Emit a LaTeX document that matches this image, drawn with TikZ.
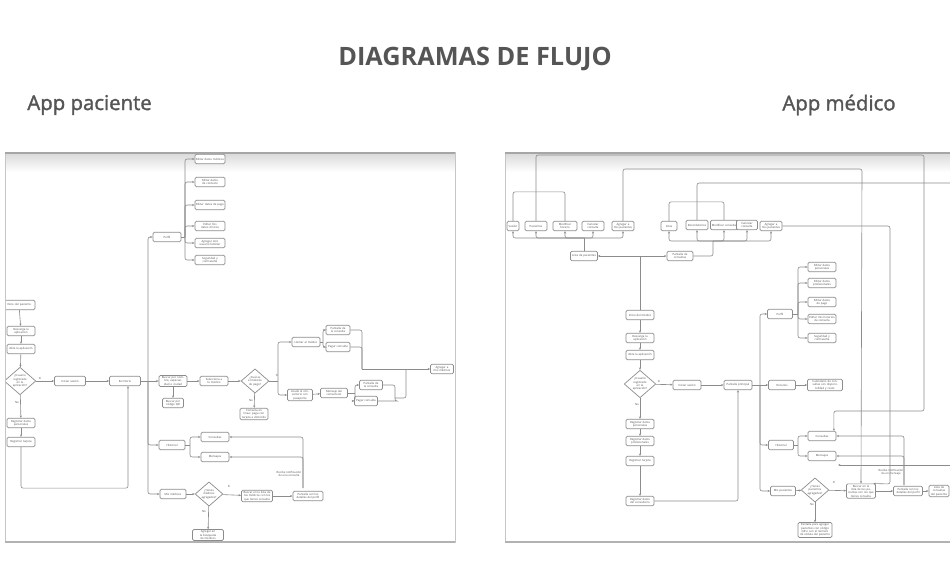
\documentclass[tikz,border=0pt]{standalone}
\usepackage{fontspec}
\setmainfont{Open Sans}
\usetikzlibrary{arrows.meta, shapes.geometric}
\definecolor{titulo}{HTML}{555555}
\definecolor{borde}{HTML}{8C8C8C}
\tikzstyle{box} = [draw=borde, fill=white, rounded corners=0.8pt, align=center, text width=0.52cm, minimum height=0.19cm, inner sep=0.6pt, font=\fontsize{1.6}{1.9}\selectfont, text=black!70]
\tikzstyle{choice} = [diamond, draw=borde, fill=white, align=center, text width=0.34cm, aspect=1.15, inner sep=0pt, minimum width=0.52cm, minimum height=0.44cm, font=\fontsize{1.6}{1.9}\selectfont, text=black!70]
\tikzstyle{wire} = [draw=borde, line width=0.35pt, rounded corners=1.2pt]
\tikzstyle{link} = [wire, -{Stealth[length=1.4pt, width=1.2pt]}]
\tikzstyle{tag} = [font=\fontsize{1.6}{1.9}\selectfont, text=black!70, inner sep=0pt, align=center]

\begin{document}
\begin{tikzpicture}[x=0.02cm, y=-0.02cm]
    \useasboundingbox (0,0) rectangle (950,568);
    % titulos
    \node (titulo) [font=\fontsize{14.4}{16}\selectfont\bfseries, text=titulo] at (475,59) {DIAGRAMAS DE FLUJO};
    \node (appP) [font=\fontsize{11.6}{13}\selectfont\addfontfeature{FakeBold=1.6}, text=titulo, anchor=west, inner sep=0pt] at (27,105) {App paciente};
    \node (appM) [font=\fontsize{11.6}{13}\selectfont\addfontfeature{FakeBold=1.6}, text=titulo, anchor=east, inner sep=0pt] at (896,105) {App médico};
    \shade [top color=gray!30, bottom color=white] (5,153) rectangle (455,172);
    \shade [top color=gray!30, bottom color=white] (505,153) rectangle (950,172);

    % app paciente
    \begin{scope}
    \clip (5,152) rectangle (455,542);
    \node (inicioP) [box, text width=0.6cm] at (19,305) {Inicio del paciente};
    \node (descargaP) [box] at (21,331) {Descarga la aplicación};
    \node (abreP) [box] at (21,349) {Abre la aplicación};
    \node (registradoP) [choice] at (20,381) {¿Usuario registrado en la aplicación?};
    \node (sesionP) [box, text width=0.58cm] at (70,381) {Iniciar sesión};
    \node (escritorioP) [box, text width=0.58cm] at (125,381) {Escritorio};
    \node (datosP) [box] at (21,423) {Registrar datos personales};
    \node (tarjetaP) [box] at (21,442) {Registrar tarjeta};
    \node (perfilP) [box] at (167,237) {Perfil};
    \node (medicaP) [box, text width=0.56cm] at (210,159) {Editar datos médicos};
    \node (contactoP) [box, text width=0.56cm] at (210,182) {Editar datos de contacto};
    \node (pagoDatosP) [box, text width=0.56cm] at (210,205) {Editar datos de pago};
    \node (clinicosP) [box, text width=0.56cm] at (210,226) {Editar mis datos clínicos};
    \node (familiarP) [box, text width=0.56cm] at (210,243) {Agregar otro usuario familiar};
    \node (claveP) [box, text width=0.56cm] at (210,260) {Seguridad y contraseña};
    \node (buscarP) [box] at (173,381) {Buscar por nombre, especialidad o ciudad};
    \node (qrP) [box, text width=0.38cm] at (173,403) {Buscar por código QR};
    \node (eligeP) [box] at (214,381) {Selecciona a tu médico};
    \node (pagoP) [choice] at (255,381) {¿Cuál es el método de pago?};
    \node (costoP) [box] at (254,414) {Consulta en línea: paga con tarjeta a domicilio};
    \node (llamarP) [box] at (306,342) {Llamar al médico};
    \node (acudeP) [box, text width=0.46cm] at (300,395) {Acude al consultorio con pasaporte};
    \node (pantallaP) [box, text width=0.44cm] at (338,330) {Pantalla de la consulta};
    \node (pagarP) [box, text width=0.44cm] at (338,347) {Pagar consulta};
    \node (mensajeP) [box, text width=0.5cm] at (334,393) {Mensaje del consultorio};
    \node (lineaP) [box, text width=0.42cm] at (371,385) {Pantalla de la consulta};
    \node (cobroP) [box, text width=0.42cm] at (366,401) {Pagar consulta};
    \node (agregarP) [box, text width=0.42cm] at (442,369) {Agregar a mis médicos};
    \node (historialP) [box, text width=0.48cm] at (172,445) {Historial};
    \node (consultasP) [box] at (215,437) {Consultas};
    \node (mensajesP) [box] at (215,457) {Mensajes};
    \node (medicosP) [box, text width=0.48cm] at (173,494) {Mis médicos};
    \node (agregadosP) [choice] at (209,494) {¿Tienes médicos agregados?};
    \node (listaP) [box, text width=0.58cm] at (257,496) {Buscar en la lista de tus médicos con los que tienes consulta};
    \node (detalleP) [box, text width=0.56cm] at (308,496) {Pantalla con los detalles del perfil};
    \node (busquedaP) [box, text width=0.58cm] at (208,535) {Agregar en la búsqueda de médicos};
    \node (avisoTagP) [tag] at (289,474) {Recibe notificación\\ de una consulta};
    \node (si1P) [tag] at (40,378) {Sí};
    \node (no1P) [tag] at (17,403) {No};
    \node (si2P) [tag] at (277,375) {Sí};
    \node (no2P) [tag] at (251,401) {No};
    \node (si3P) [tag] at (229,486) {Sí};
    \node (no3P) [tag] at (204,512) {No};
    \coordinate (troncoP) at (148,381);
    \coordinate (ramaP) at (185,237);
    \coordinate (metodoP) at (278,381);
    \coordinate (llamadaP) at (323,342);
    \coordinate (juntaP) at (362,369);
    \coordinate (citaP) at (355,393);
    \coordinate (cierreP) at (395,398);
    \coordinate (cruceP) at (406,369);
    \coordinate (historiaP) at (190,445);
    \coordinate (avisoP) at (303,488);

    \draw [link] (inicioP) -- (descargaP);
    \draw [link] (descargaP) -- (abreP);
    \draw [link] (abreP) -- (registradoP);
    \draw [link] (registradoP) -- (sesionP);
    \draw [link] (sesionP) -- (escritorioP);
    \draw [link] (registradoP) -- (datosP);
    \draw [link] (datosP) -- (tarjetaP);
    \draw [link] (tarjetaP.south) -- ++(0,41) -| ([xshift=0.06cm]escritorioP.south);
    \draw [wire] (escritorioP) -- (troncoP);
    \draw [link] (troncoP) |- (perfilP);
    \draw [link] (troncoP) -- (buscarP);
    \draw [link] (troncoP) |- (historialP);
    \draw [link] (troncoP) |- (medicosP);
    \draw [wire] (perfilP) -- (ramaP);
    \foreach \n in {medicaP, contactoP, pagoDatosP, clinicosP, familiarP, claveP}
        \draw [link] (ramaP) |- (\n.west);
    \draw [link] (buscarP) -- (qrP);
    \draw [link] (buscarP) -- (eligeP);
    \draw [link] (eligeP) -- (pagoP);
    \draw [link] (pagoP) -- (costoP);
    \draw [wire] (pagoP) -- (metodoP);
    \draw [link] (metodoP) |- (llamarP);
    \draw [link] (metodoP) |- (acudeP);
    \draw [wire] (llamarP) -- (llamadaP);
    \draw [link] (llamadaP) |- (pantallaP);
    \draw [link] (llamadaP) |- (pagarP);
    \draw [wire] (pantallaP) -| (juntaP);
    \draw [wire] (pagarP) -| (juntaP);
    \draw [link] (juntaP) -- (agregarP);
    \draw [link] (acudeP) -- (mensajeP);
    \draw [wire] (mensajeP) -- (citaP);
    \draw [link] (citaP) |- (lineaP);
    \draw [link] (citaP) |- (cobroP);
    \draw [wire] (lineaP) -| (cierreP);
    \draw [wire] (cobroP.east) -- ++(0.38cm,0) -| (cierreP);
    \draw [wire] (cierreP) -| (cruceP);
    \draw [wire] (historialP) -- (historiaP);
    \draw [link] (historiaP) |- (consultasP);
    \draw [link] (historiaP) |- (mensajesP);
    \draw [link] (avisoP) |- (consultasP);
    \draw [link] (avisoP) |- (mensajesP);
    \draw [link] (medicosP) -- (agregadosP);
    \draw [link] (agregadosP) -- (listaP);
    \draw [link] (listaP) -- (detalleP);
    \draw [link] (agregadosP) -- (busquedaP);
    \end{scope}

    % app medico
    \begin{scope}
    \clip (505,152) rectangle (950,542);
    \node (ajustesM) [box, text width=0.2cm] at (513,226) {Sesión};
    \node (pacienteM) [box, text width=0.4cm] at (536,226) {Pacientes};
    \node (horarioM) [box, text width=0.44cm] at (565,226) {Modificar horario};
    \node (cancelaM) [box, text width=0.4cm] at (593,226) {Cancelar consulta};
    \node (nuevoM) [box, text width=0.4cm] at (623,226) {Agregar a mis pacientes};
    \node (listaM) [box, text width=0.5cm] at (584,256) {Lista de pacientes};
    \node (citasM) [box, text width=0.28cm] at (669,226) {Citas};
    \node (recuerdaM) [box, text width=0.4cm] at (697,225) {Recordatorios};
    \node (modificaM) [box, text width=0.5cm] at (724,225) {Modificar consulta};
    \node (cancelaM2) [box, text width=0.38cm] at (747,225) {Cancelar consulta};
    \node (nuevoM2) [box, text width=0.4cm] at (771,226) {Agregar a mis pacientes};
    \node (consultaM) [box, text width=0.48cm] at (680,256) {Pantalla de consultas};
    \node (inicioM) [box] at (640,315) {Inicio del médico};
    \node (descargaM) [box] at (640,338) {Descarga la aplicación};
    \node (abreM) [box] at (640,355) {Abre la aplicación};
    \node (registradoM) [choice] at (640,384) {¿Usuario registrado en la aplicación?};
    \node (sesionM) [box] at (687,385) {Iniciar sesión};
    \node (principalM) [box] at (738,385) {Pantalla principal};
    \node (datosM) [box] at (640,424) {Registrar datos personales};
    \node (profesionM) [box] at (640,441) {Registrar datos profesionales};
    \node (tarjetaM) [box] at (640,461) {Registrar tarjeta};
    \node (consultorioM) [box] at (640,501) {Registrar datos del consultorio};
    \node (perfilM) [box, text width=0.46cm] at (780,314) {Perfil};
    \node (horariosM) [box, text width=0.5cm] at (782,385) {Horarios};
    \node (historialM) [box, text width=0.46cm] at (781,445) {Historial};
    \node (pacientesM) [box, text width=0.46cm] at (783,491) {Mis pacientes};
    \node (personalM) [box] at (822,267) {Editar datos personales};
    \node (profesionalM) [box] at (822,283) {Editar datos profesionales};
    \node (pagoDatosM) [box] at (822,302) {Editar datos de pago};
    \node (horasM) [box] at (822,319) {Editar mis horarios de consulta};
    \node (claveM) [box] at (822,338) {Seguridad y contraseña};
    \node (calendarioM) [box, text width=0.66cm] at (825,385) {Calendario de consultas con disponibilidad y costo};
    \node (consultasM) [box] at (822,436) {Consultas};
    \node (mensajesM) [box] at (822,456) {Mensajes};
    \node (agregadosM) [choice] at (815,490) {¿Tienes pacientes agregados?};
    \node (listaM2) [box, text width=0.54cm] at (861,491) {Buscar en la lista de tus pacientes con los que tienes consulta};
    \node (detalleM) [box, text width=0.54cm] at (908,491) {Pantalla con los detalles del perfil};
    \node (extraM) [box, text width=0.36cm] at (939,491) {Lista de consultas del paciente};
    \node (qrM) [box, text width=0.64cm] at (815,530) {Pantalla para agregar pacientes con código QR o con el número de cédula del paciente};
    \node (avisoTagM) [tag] at (891,472) {Recibe notificación\\ de un mensaje};
    \node (si1M) [tag] at (659,381) {Sí};
    \node (no1M) [tag] at (637,405) {No};
    \node (si2M) [tag] at (834,482) {Sí};
    \node (no2M) [tag] at (812,505) {No};
    \coordinate (centroM) at (640,256);
    \coordinate (barraM1) at (584,238);
    \coordinate (barraM2) at (713,241);
    \coordinate (esqM1) at (924,155);
    \coordinate (esqM2) at (862,169);
    \coordinate (esqM3) at (890,484);
    \coordinate (salidaM) at (960,183);
    \coordinate (entradaM) at (960,465);
    \coordinate (finM) at (838,465);
    \coordinate (troncoM) at (760,385);
    \coordinate (ramaM) at (798,314);
    \coordinate (historiaM) at (798,445);
    \coordinate (avisoM) at (904,485);

    \draw [wire] (inicioM) -- (centroM);
    \draw [link] (centroM) -- (listaM);
    \draw [link] (centroM) -- (consultaM);
    \draw [wire] (listaM) -- (barraM1);
    \foreach \n in {ajustesM, pacienteM, horarioM, cancelaM, nuevoM}
        \draw [link] (barraM1) -| (\n.south);
    \draw [wire] (ajustesM.north) -- ++(0,-29) -| (horarioM.north);
    \draw [wire] (consultaM) -| (barraM2);
    \foreach \n in {citasM, recuerdaM, modificaM, cancelaM2, nuevoM2}
        \draw [link] (barraM2) -| (\n.south);
    \draw [wire] (citasM.north) -- ++(0,-19) -| (modificaM.north);
    \draw [wire] (recuerdaM.north) |- (salidaM);
    \draw [link] (pacienteM.north) |- (esqM1) -- (924,411) -| ([xshift=-0.05cm]consultasM.north east);
    \draw [link] (nuevoM.north) |- (esqM2) -- (listaM2.north);
    \draw [link] (nuevoM2.east) -| (esqM3) -- ([xshift=-0.05cm]listaM2.north east);
    \draw [link] (entradaM) -- (finM);
    \draw [link] (inicioM) -- (descargaM);
    \draw [link] (descargaM) -- (abreM);
    \draw [link] (abreM) -- (registradoM);
    \draw [link] (registradoM) -- (sesionM);
    \draw [link] (sesionM) -- (principalM);
    \draw [link] (registradoM) -- (datosM);
    \draw [link] (datosM) -- (profesionM);
    \draw [link] (profesionM) -- (tarjetaM);
    \draw [link] (tarjetaM) -- (consultorioM);
    \draw [link] (consultorioM) -| (principalM.south);
    \draw [wire] (principalM) -- (troncoM);
    \draw [link] (troncoM) |- (perfilM);
    \draw [link] (troncoM) -- (horariosM);
    \draw [link] (troncoM) |- (historialM);
    \draw [link] (troncoM) |- (pacientesM);
    \draw [wire] (perfilM) -- (ramaM);
    \foreach \n in {personalM, profesionalM, pagoDatosM, horasM, claveM}
        \draw [link] (ramaM) |- (\n.west);
    \draw [link] (horariosM) -- (calendarioM);
    \draw [wire] (historialM) -- (historiaM);
    \draw [link] (historiaM) |- (consultasM);
    \draw [link] (historiaM) |- (mensajesM);
    \draw [link] (avisoM) |- (consultasM);
    \draw [link] (avisoM) |- (mensajesM);
    \draw [link] (pacientesM) -- (agregadosM);
    \draw [link] (agregadosM) -- (listaM2);
    \draw [link] (listaM2) -- (detalleM);
    \draw [link] (detalleM) -- (extraM);
    \draw [link] (agregadosM) -- (qrM);
    \end{scope}

    % marcos
    \draw [gray!45, line width=0.4pt] (5,152) rectangle (455,542);
    \draw [gray!70, line width=1pt] (5,153) -- (455,153);
    \draw [gray!60, line width=0.8pt] (5,542) -- (455,542);
    \draw [gray!45, line width=0.4pt] (505,152) -- (505,542);
    \draw [gray!70, line width=1pt] (505,153) -- (950,153);
    \draw [gray!60, line width=0.8pt] (505,542) -- (950,542);
\end{tikzpicture}
\end{document}
